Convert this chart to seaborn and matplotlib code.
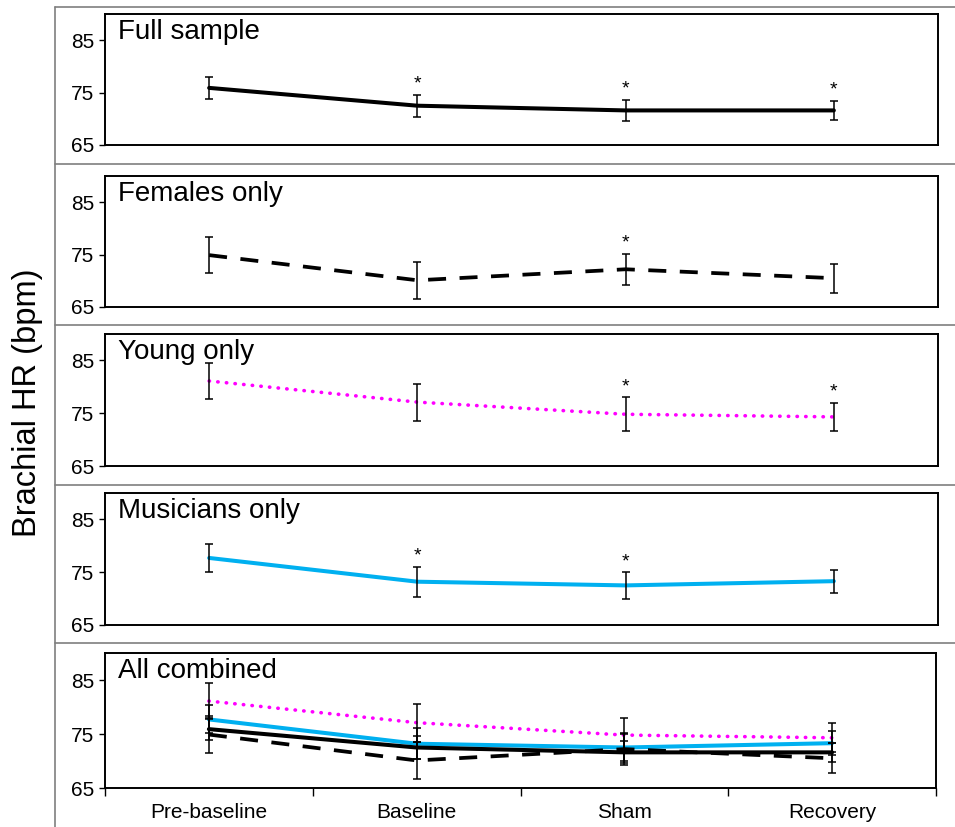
import numpy as np
import pandas as pd
import seaborn as sns
import matplotlib.pyplot as plt
from matplotlib.lines import Line2D

## Data
phases = ['Pre-baseline', 'Baseline', 'Sham', 'Recovery']

full_mean = [75.9, 72.5, 71.6, 71.6]
full_sd = [2.1, 2.1, 2.05, 1.8]
full_star = [False, True, True, True]

fem_mean = [74.9, 70.1, 72.2, 70.5]
fem_sd = [3.4, 3.5, 3.0, 2.75]
fem_star = [False, False, True, False]

young_mean = [81.1, 77.1, 74.8, 74.3]
young_sd = [3.4, 3.5, 3.2, 2.7]
young_star = [False, False, True, True]

mus_mean = [77.7, 73.2, 72.5, 73.3]
mus_sd = [2.6, 2.85, 2.5, 2.2]
mus_star = [False, True, True, False]

groups = ['full', 'females', 'young', 'musicians']
titles = ['Full sample', 'Females only', 'Young only', 'Musicians only', 'All combined']

df = pd.concat([
    pd.DataFrame({'group': g, 'phase': phases, 'pos': range(len(phases)),
                  'hr': m, 'sd': s, 'star': st})
    for g, m, s, st in [('full', full_mean, full_sd, full_star),
                        ('females', fem_mean, fem_sd, fem_star),
                        ('young', young_mean, young_sd, young_star),
                        ('musicians', mus_mean, mus_sd, mus_star)]
], ignore_index=True)

styles = {
    'full': dict(color='black', lw=2.9, linestyle='-'),
    'females': dict(color='black', lw=2.7, linestyle=(0, (4.8, 3.6))),
    'young': dict(color='#FF00FF', lw=2.6, linestyle=(0, (0.1, 2.3)), dash_capstyle='round'),
    'musicians': dict(color='#00B0F0', lw=2.9, linestyle='-'),
}

## Figure
sns.set_theme(style='white')
plt.rcParams['font.family'] = ['Liberation Sans', 'DejaVu Sans']
plt.rcParams['text.color'] = 'black'

W, H = 955, 827
fig = plt.figure(figsize=(W / 100, H / 100), dpi=100)

boxes = [(14, 145), (176, 307), (334, 466), (493, 625), (653, 788)]


def add_ax(top, bottom, left=105, right=938):
    return fig.add_axes([left / W, 1 - bottom / H, (right - left) / W, (bottom - top) / H])


def draw(ax, grp, stars=True):
    d = df[df['group'] == grp]
    sns.lineplot(data=d, x='pos', y='hr', ax=ax, errorbar=None, sort=False, **styles[grp])
    ax.errorbar(d['pos'], d['hr'], yerr=d['sd'], fmt='none', ecolor='black',
                elinewidth=1.1, capsize=2.9, capthick=1.1, zorder=3)
    if stars:
        for x, y, s, st in zip(d['pos'], d['hr'], d['sd'], d['star']):
            if st:
                ax.annotate('*', xy=(x, y + s), xytext=(0, 1.5), textcoords='offset points',
                            ha='center', va='bottom', fontsize=14, color='black')


axes = []
for i, (top, bottom) in enumerate(boxes):
    ax = add_ax(top, bottom, right=938 if i < 4 else 936)
    if i < 4:
        draw(ax, groups[i])
    else:
        for g in ['young', 'musicians', 'full', 'females']:
            draw(ax, g, stars=False)
    ax.set_xlim(-0.5, 3.5)
    ax.set_ylim(65, 90)
    ax.set_yticks([65, 75, 85])
    ax.tick_params(axis='y', left=True, direction='out', length=4.5, width=1,
                   pad=3.5, labelsize=15, colors='black')
    for sp in ax.spines.values():
        sp.set_visible(True)
        sp.set_color('black')
        sp.set_linewidth(1.4)
    ax.set_xlabel('')
    ax.set_ylabel('')
    ax.text(0.016, 0.965, titles[i], transform=ax.transAxes, ha='left', va='top',
            fontsize=20, color='black')
    if i < 4:
        ax.set_xticks([])
    else:
        ax.set_xticks([-0.5, 0.5, 1.5, 2.5, 3.5])
        ax.set_xticklabels([])
        ax.set_xticks(range(len(phases)), minor=True)
        ax.set_xticklabels(phases, minor=True)
        ax.tick_params(axis='x', which='major', bottom=True, direction='out',
                       length=6, width=1, colors='black')
        ax.tick_params(axis='x', which='minor', bottom=True, length=0, pad=11,
                       labelsize=15, labelcolor='black')
    axes.append(ax)

## Outer frame lines
gray = '#7f7f7f'
for yy in [7, 164, 325, 484.5, 642.5]:
    fig.add_artist(Line2D([55 / W, 1], [1 - yy / H] * 2, color=gray, lw=1.2))
fig.add_artist(Line2D([55 / W] * 2, [1 - 7 / H, 0], color=gray, lw=1.2))

fig.text(28 / W, 1 - 403 / H, 'Brachial HR (bpm)', rotation=90, ha='center', va='center',
         fontsize=23.5, color='black')

fig.savefig('out.png', dpi=100)
